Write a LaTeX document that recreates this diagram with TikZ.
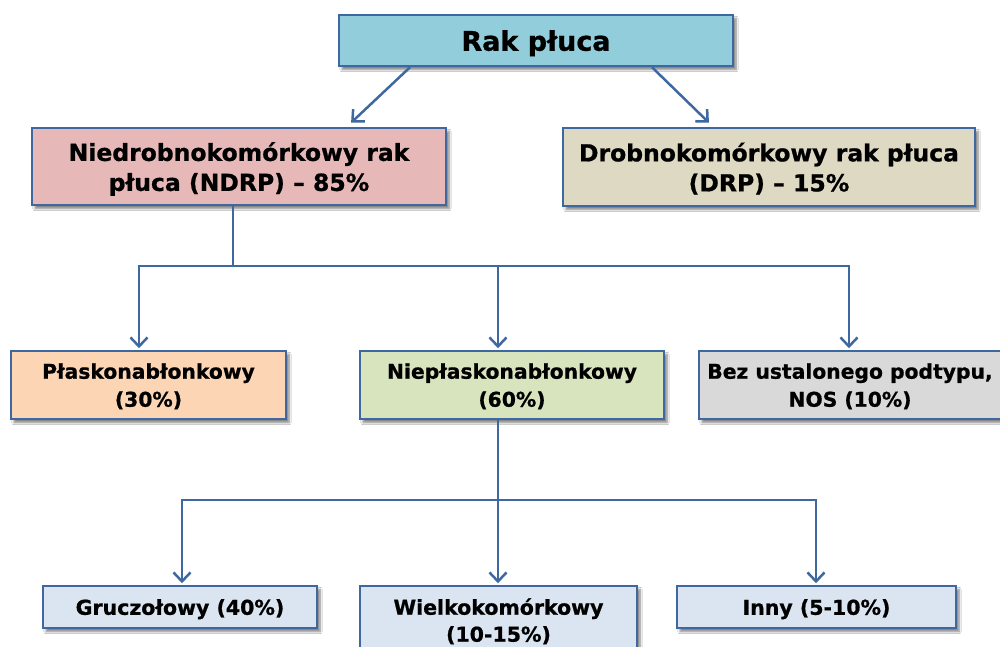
\documentclass[tikz,border=0pt]{standalone}
\usepackage{fontspec}
\setmainfont{DejaVu Sans}[BoldFeatures={FakeBold=0.8}]
\usetikzlibrary{arrows.meta,shadows.blur}
\definecolor{edge}{HTML}{4068A0}
\definecolor{cTop}{HTML}{92CDDC}
\definecolor{cNd}{HTML}{E6B9B8}
\definecolor{cDr}{HTML}{DDD9C3}
\definecolor{cPl}{HTML}{FCD5B5}
\definecolor{cNp}{HTML}{D7E4BD}
\definecolor{cBz}{HTML}{D9D9D9}
\definecolor{cLo}{HTML}{DBE5F1}
\tikzset{
  box/.style={draw=edge, line width=2.5pt, rectangle, align=center, inner sep=0pt,
    font=\bfseries, text=black,
    blur shadow={shadow xshift=3pt, shadow yshift=-3.5pt, shadow blur steps=6, shadow opacity=50}},
  conn/.style={draw=edge, line width=2.5pt},
  arr/.style={conn, -{Straight Barb[length=9pt,width=17pt,line width=2.5pt]}, shorten >=1.5pt},
  lvA/.style={font=\bfseries\fontsize{27}{30}\selectfont, text depth=-4pt},
  lvB/.style={font=\bfseries\fontsize{23.5}{30}\selectfont, text depth=-6pt},
  lvC/.style={font=\bfseries\fontsize{20.3}{28}\selectfont, text depth=-2pt},
  lvD/.style={font=\bfseries\fontsize{20.5}{27}\selectfont, text depth=-2pt},
}
\begin{document}
\begin{tikzpicture}[x=1pt,y=-1pt]
\useasboundingbox (0,0) rectangle (1000,647);
\clip (0,0) rectangle (1000,647);
\fill[white] (0,0) rectangle (1000,647);

\node[box, lvA, fill=cTop, minimum width=394pt, minimum height=51pt] (top) at (536,40.5) {Rak płuca};
\node[box, lvB, fill=cNd, minimum width=414pt, minimum height=77pt] (nd) at (239,166.5) {Niedrobnokomórkowy rak\\płuca (NDRP) – 85\%};
\node[box, lvB, fill=cDr, minimum width=412pt, minimum height=78pt] (dr) at (769,167) {Drobnokomórkowy rak płuca\\(DRP) – 15\%};

\node[box, lvC, fill=cPl, minimum width=275pt, minimum height=68pt] (pl) at (148.5,385) {Płaskonabłonkowy\\(30\%)};
\node[box, lvC, fill=cNp, minimum width=304pt, minimum height=68pt] (np) at (512,385) {Niepłaskonabłonkowy\\(60\%)};
\node[box, lvC, fill=cBz, minimum width=302pt, minimum height=68pt] (bz) at (850,385) {Bez ustalonego podtypu,\\NOS (10\%)};

\node[box, lvD, fill=cLo, minimum width=274pt, minimum height=42pt] (gr) at (180,607) {Gruczołowy (40\%)};
\node[box, lvD, fill=cLo, minimum width=277pt, minimum height=68pt] (wk) at (498.5,620) {Wielkokomórkowy\\(10-15\%)};
\node[box, lvD, fill=cLo, minimum width=279pt, minimum height=42pt] (in) at (816.5,607) {Inny (5-10\%)};

% top level arrows
\draw[arr] ([xshift=-126pt]top.south) -- ([xshift=111pt,yshift=3pt]nd.north);
\draw[arr] ([xshift=116pt]top.south) -- ([xshift=-59pt,yshift=3pt]dr.north);

% NDRP bus
\coordinate (b1) at (233,266);
\draw[conn] (nd.south -| b1) -- (b1);
\draw[arr] (b1) -| ([xshift=-9.5pt]pl.north);
\draw[arr] (b1) -| ([xshift=-14pt]np.north);
\draw[arr] (b1) -| ([xshift=-1pt]bz.north);

% non-squamous bus
\coordinate (b2) at (498,500);
\draw[conn] (np.south -| b2) -- (b2);
\draw[arr] (b2) -| ([xshift=2pt]gr.north);
\draw[arr] (b2) -| ([xshift=-0.5pt]wk.north);
\draw[arr] (b2) -| ([xshift=-0.5pt]in.north);
\end{tikzpicture}
\end{document}
